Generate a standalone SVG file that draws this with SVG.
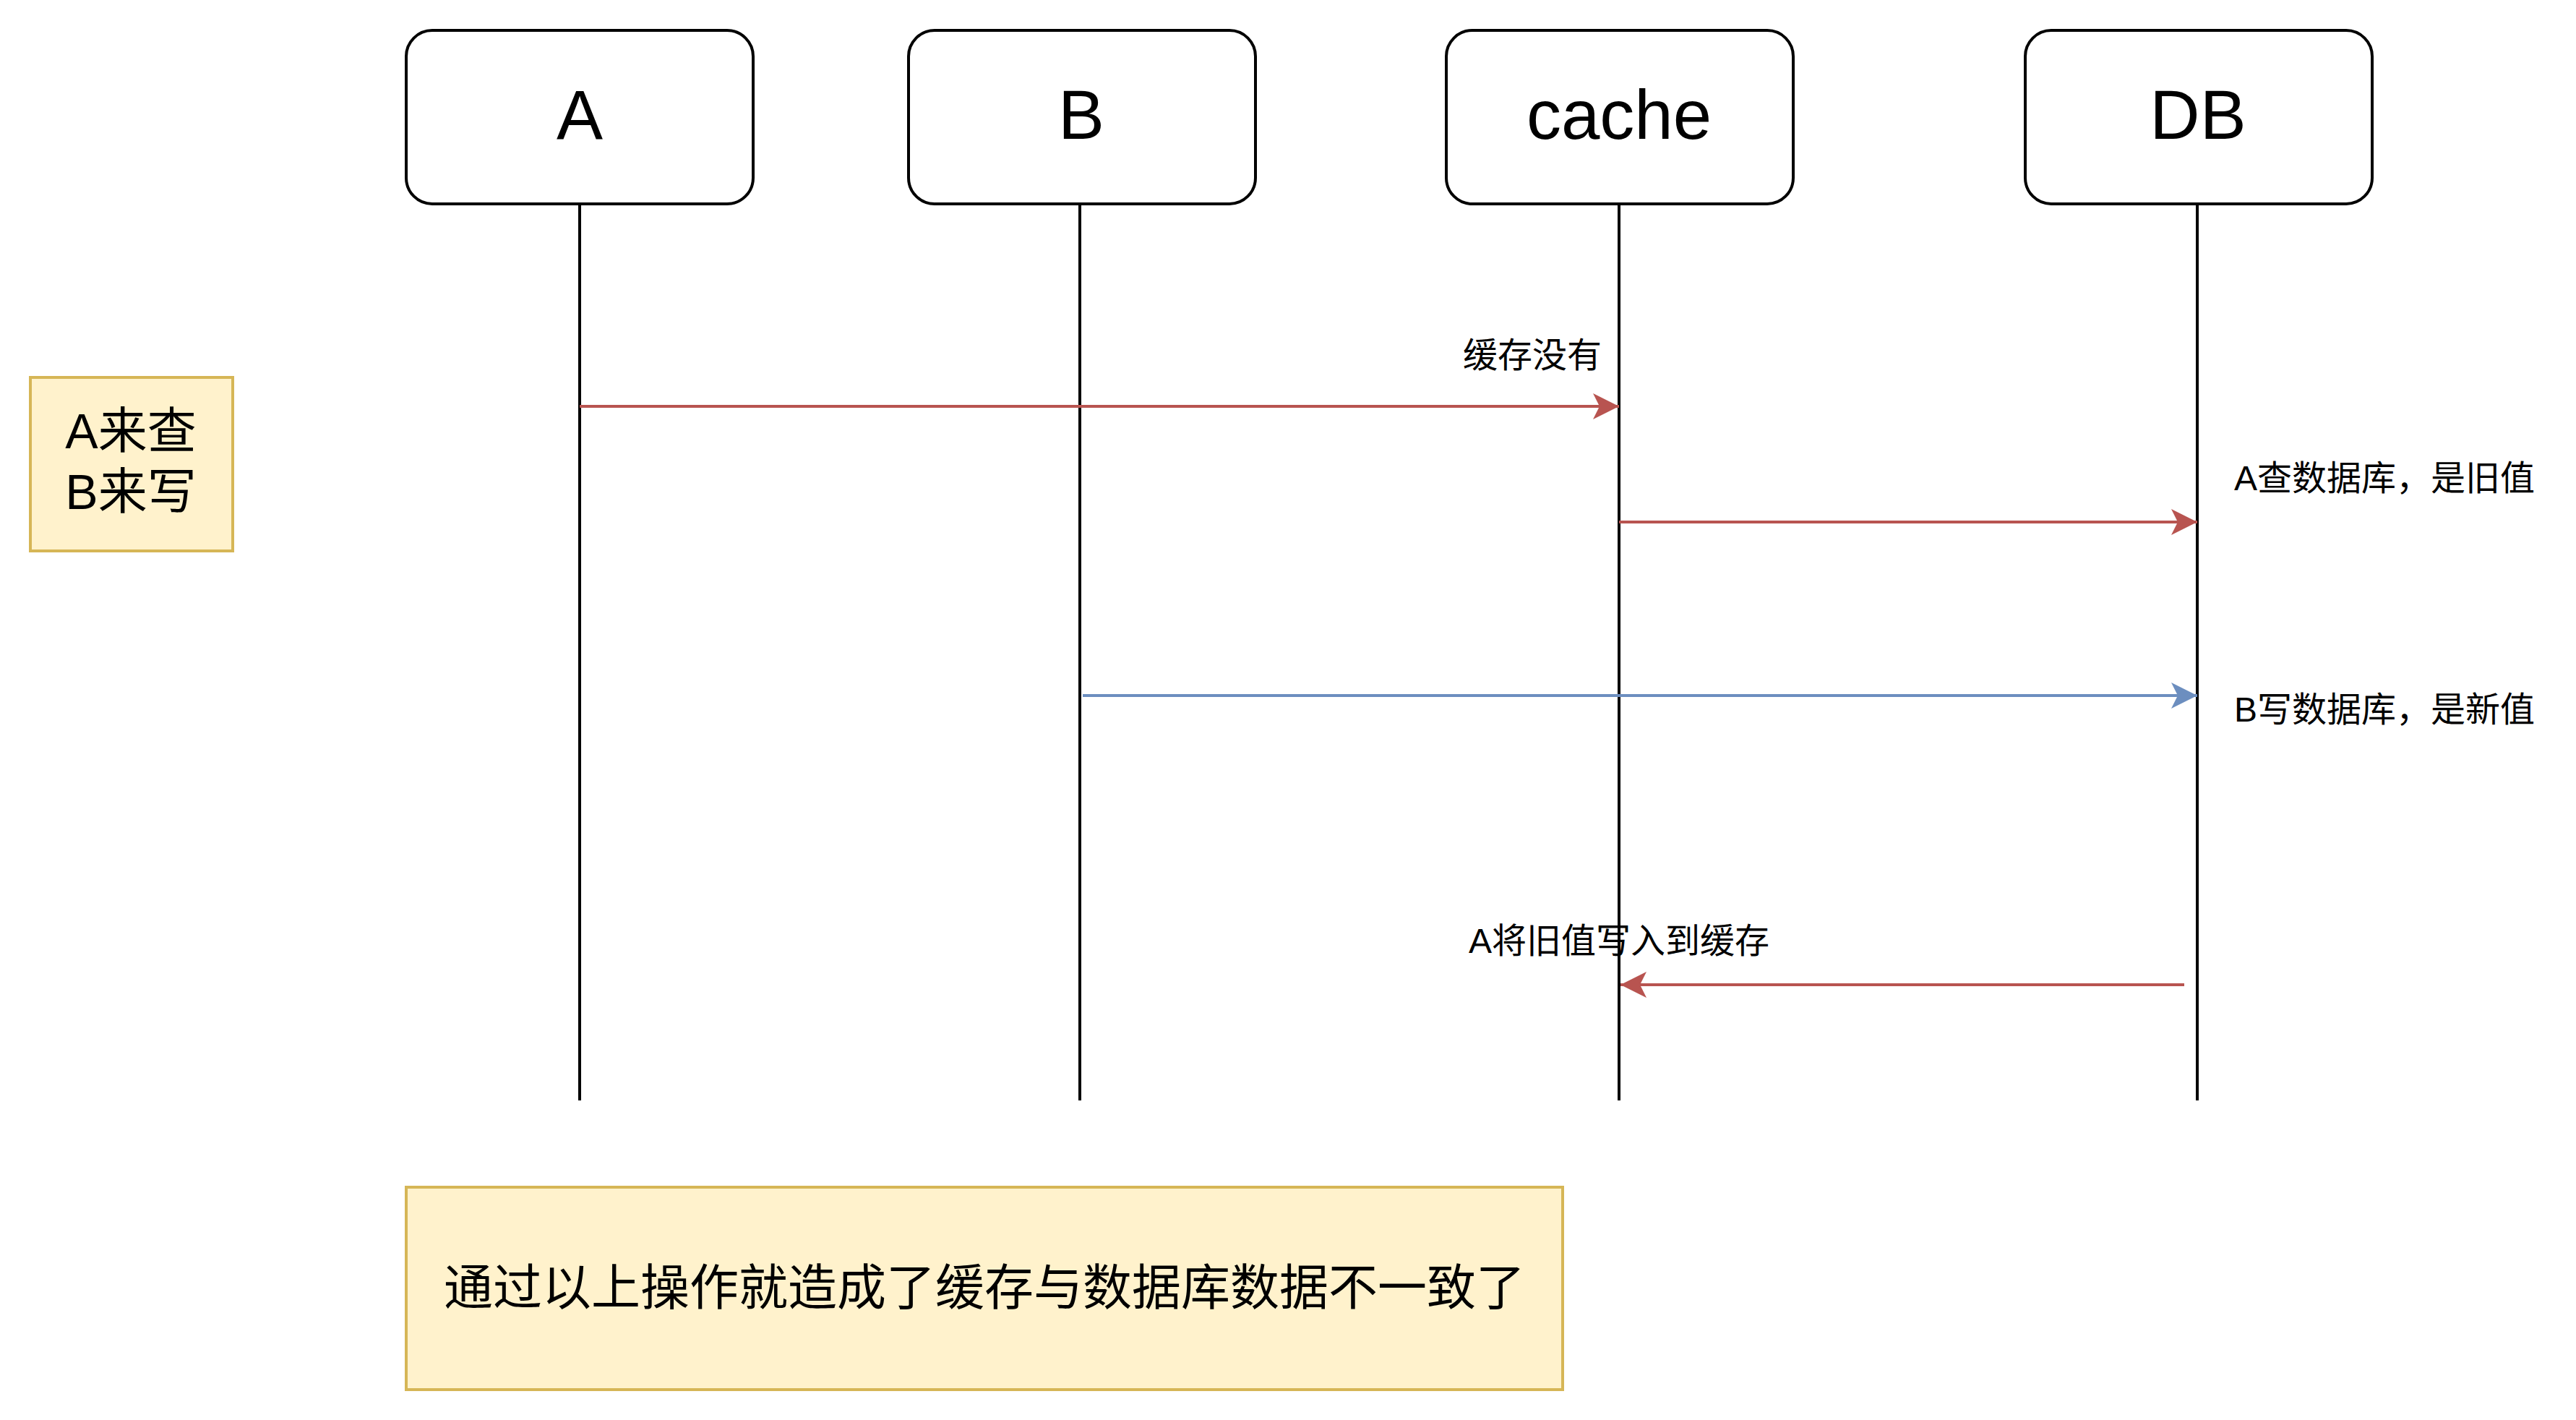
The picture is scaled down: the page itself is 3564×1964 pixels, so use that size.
<svg xmlns="http://www.w3.org/2000/svg" width="3564" height="1964" viewBox="0 0 3564 1964">
<style>
.actor{fill:#ffffff;stroke:#000000;stroke-width:4}
.note{fill:#fff2cc;stroke:#d6b656;stroke-width:4}
.life{stroke:#000000;stroke-width:4;fill:none}
.red{stroke:#b85450;stroke-width:4;fill:none}
.blue{stroke:#6c8ebf;stroke-width:4;fill:none}
text{font-family:"Liberation Sans","Noto Sans CJK SC",sans-serif;fill:#000000}
.big{font-size:96px;text-anchor:middle}
.mid{font-size:68px;text-anchor:middle}
.lbl{font-size:48px}
</style>
<defs>
<marker id="ar" viewBox="-37 -20 38 40" refX="0" refY="0" markerWidth="38" markerHeight="40" markerUnits="userSpaceOnUse" orient="auto">
<path d="M0,0 L-36,-18 L-27,0 L-36,18 Z" fill="#b85450"/>
</marker>
<marker id="ab" viewBox="-37 -20 38 40" refX="0" refY="0" markerWidth="38" markerHeight="40" markerUnits="userSpaceOnUse" orient="auto">
<path d="M0,0 L-36,-18 L-27,0 L-36,18 Z" fill="#6c8ebf"/>
</marker>
</defs>
<rect width="3564" height="1964" fill="#ffffff"/>
<g id="lifelines">
<line class="life" x1="802" y1="282" x2="802" y2="1522"/>
<line class="life" x1="1494" y1="282" x2="1494" y2="1522"/>
<line class="life" x1="2240" y1="282" x2="2240" y2="1522"/>
<line class="life" x1="3040" y1="282" x2="3040" y2="1522"/>
</g>
<g id="node-A"><rect class="actor" x="562" y="42" width="480" height="240" rx="36"/><text class="big" x="802" y="192">A</text></g>
<g id="node-B"><rect class="actor" x="1257" y="42" width="480" height="240" rx="36"/><text class="big" x="1496" y="192">B</text></g>
<g id="node-cache"><rect class="actor" x="2001" y="42" width="480" height="240" rx="36"/><text class="big" x="2240" y="192">cache</text></g>
<g id="node-DB"><rect class="actor" x="2802" y="42" width="480" height="240" rx="36"/><text class="big" x="3041" y="192">DB</text></g>
<g id="note-ab"><rect class="note" x="42" y="522" width="280" height="240"/><text class="mid" x="181" y="620">A来查</text><text class="mid" x="181" y="704">B来写</text></g>
<g id="note-result"><rect class="note" x="562" y="1642" width="1600" height="280"/><text class="mid" x="1362" y="1805">通过以上操作就造成了缓存与数据库数据不一致了</text></g>
<g id="connectors">
<line class="red" x1="802" y1="562" x2="2240" y2="562" marker-end="url(#ar)"/>
<line class="red" x1="2240" y1="722" x2="3040" y2="722" marker-end="url(#ar)"/>
<line class="blue" x1="1498" y1="962" x2="3040" y2="962" marker-end="url(#ab)"/>
<line class="red" x1="3022" y1="1362" x2="2242" y2="1362" marker-end="url(#ar)"/>
</g>
<g id="labels">
<text class="lbl" x="2024" y="508">缓存没有</text>
<text class="lbl" x="3091" y="678">A查数据库，是旧值</text>
<text class="lbl" x="3091" y="998">B写数据库，是新值</text>
<text class="lbl" x="2032" y="1318">A将旧值写入到缓存</text>
</g>
</svg>
